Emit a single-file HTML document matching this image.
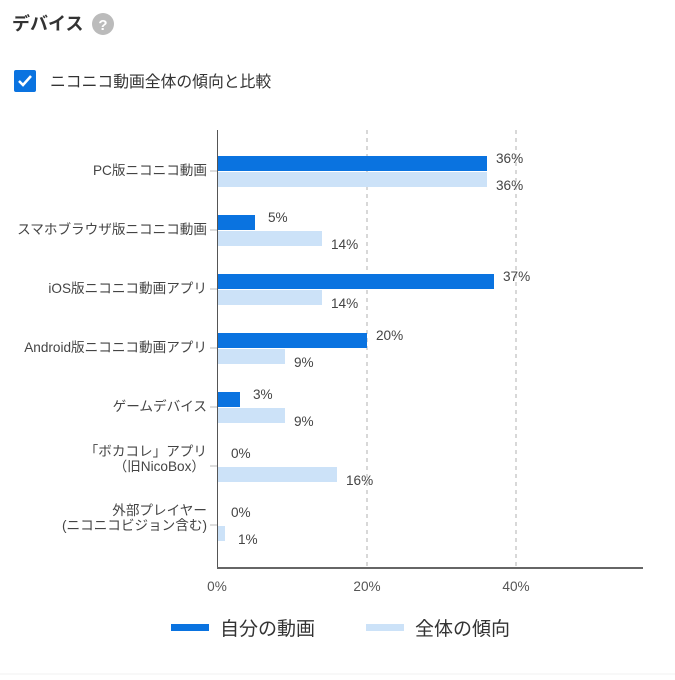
<!DOCTYPE html>
<html><head><meta charset="utf-8"><style>
body{margin:0;background:#fff;width:675px;height:675px;overflow:hidden;font-family:"Liberation Sans","Noto Sans CJK JP",sans-serif}
</style></head><body>
<svg width="675" height="675" xmlns="http://www.w3.org/2000/svg" style="font-family:'Liberation Sans','Noto Sans CJK JP',sans-serif">
<text x="12" y="30" font-size="18" font-weight="bold" fill="#333">デバイス</text>
<circle cx="103" cy="24" r="11" fill="#bbb"/>
<text x="103" y="30" font-size="15" font-weight="bold" fill="#fff" text-anchor="middle">?</text>
<rect x="14" y="70" width="22" height="22" rx="2" fill="#0a73e0"/>
<path d="M19 81 l4 4 l8 -9" stroke="#fff" stroke-width="2.5" fill="none"/>
<text x="50" y="87" font-size="15.8" fill="#333">ニコニコ動画全体の傾向と比較</text>
<g stroke="#ccc" stroke-dasharray="4,4" stroke-width="1.5"><line x1="367" y1="130" x2="367" y2="567"/><line x1="516" y1="130" x2="516" y2="567"/></g>
<line x1="217.5" y1="130" x2="217.5" y2="568" stroke="#555" stroke-width="1"/>
<line x1="217" y1="568" x2="643" y2="568" stroke="#666" stroke-width="2"/>
<g stroke="#bbb"><line x1="210" y1="171" x2="217" y2="171"/><line x1="210" y1="230" x2="217" y2="230"/><line x1="210" y1="289" x2="217" y2="289"/><line x1="210" y1="348" x2="217" y2="348"/><line x1="210" y1="407" x2="217" y2="407"/><line x1="210" y1="466" x2="217" y2="466"/><line x1="210" y1="525" x2="217" y2="525"/></g>
<g font-size="13.6" fill="#444" text-anchor="end">
<text x="207" y="175">PC版ニコニコ動画</text>
<text x="207" y="234">スマホブラウザ版ニコニコ動画</text>
<text x="207" y="293">iOS版ニコニコ動画アプリ</text>
<text x="207" y="352">Android版ニコニコ動画アプリ</text>
<text x="207" y="411">ゲームデバイス</text>
<text x="207" y="456">「ボカコレ」アプリ</text>
<text x="205" y="471">（旧NicoBox）</text>
<text x="207" y="515">外部プレイヤー</text>
<text x="207" y="530">(ニコニコビジョン含む)</text>
</g>
<g fill="#0a73e0">
<rect x="218" y="156" width="269" height="15"/>
<rect x="218" y="215" width="37" height="15"/>
<rect x="218" y="274" width="276" height="15"/>
<rect x="218" y="333" width="149" height="15"/>
<rect x="218" y="392" width="22" height="15"/>
</g>
<g fill="#cce2f8">
<rect x="218" y="172" width="269" height="15"/>
<rect x="218" y="231" width="104" height="15"/>
<rect x="218" y="290" width="104" height="15"/>
<rect x="218" y="349" width="67" height="15"/>
<rect x="218" y="408" width="67" height="15"/>
<rect x="218" y="467" width="119" height="15"/>
<rect x="218" y="526" width="7" height="15"/>
</g>
<g font-size="13.6" fill="#444">
<text x="496" y="163">36%</text><text x="496" y="190">36%</text>
<text x="268" y="222">5%</text><text x="331" y="249">14%</text>
<text x="503" y="281">37%</text><text x="331" y="308">14%</text>
<text x="376" y="340">20%</text><text x="294" y="367">9%</text>
<text x="253" y="399">3%</text><text x="294" y="426">9%</text>
<text x="231" y="458">0%</text><text x="346" y="485">16%</text>
<text x="231" y="517">0%</text><text x="238" y="544">1%</text>
</g>
<g font-size="13.6" fill="#555" text-anchor="middle">
<text x="217" y="591">0%</text><text x="367" y="591">20%</text><text x="516" y="591">40%</text>
</g>
<rect x="171" y="624" width="38" height="7" fill="#0a73e0"/>
<text x="220" y="635" font-size="19" fill="#333">自分の動画</text>
<rect x="366" y="624" width="38" height="7" fill="#cce2f8"/>
<text x="415" y="635" font-size="19" fill="#333">全体の傾向</text>
<line x1="0" y1="674" x2="675" y2="674" stroke="#f0f0f0"/>
</svg>
</body></html>
